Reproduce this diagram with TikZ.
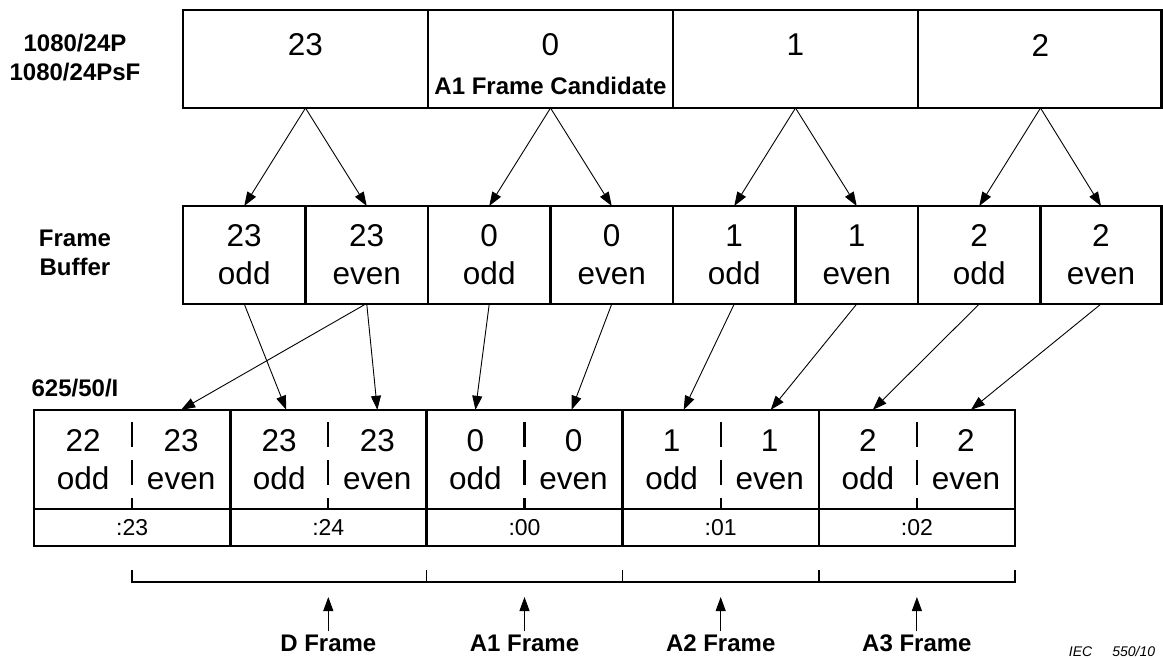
\documentclass[tikz,border=0pt]{standalone}
\usepackage{fontspec}
\setmainfont{Liberation Sans}
\usetikzlibrary{arrows.meta}
\begin{document}
\begin{tikzpicture}[x=1pt,y=-1pt,
		box/.style={draw, line width=2.6pt, inner sep=0pt, outer sep=0pt},
		num/.style={font=\fontsize{31.5}{38}\selectfont, align=center, inner sep=0pt},
		lab/.style={font=\fontsize{24}{29}\selectfont\bfseries, align=center, inner sep=3pt},
		tc/.style={box, font=\fontsize{23}{27}\selectfont, minimum width=196.2pt, minimum height=37pt},
		arr/.style={-{Triangle[length=14pt,width=10pt]}, line width=0.9pt},
		divider/.style={line width=2.2pt, dash pattern=on 25pt off 13pt, dash phase=26pt},
		brk/.style={line width=1.6pt}]
	\useasboundingbox (0,0) rectangle (1163,657);
	% 1080/24P source frames
	\node[lab] (src) at (75,57.5) {1080/24P\\1080/24PsF};
	\node[box, minimum width=245pt, minimum height=98pt] (t23) at (305.5,59) {};
	\node[box, minimum width=245pt, minimum height=98pt] (t0) at (550.5,59) {};
	\node[box, minimum width=245pt, minimum height=98pt] (t1) at (795.5,59) {};
	\node[box, minimum width=243.5pt, minimum height=98pt] (t2) at (1039.75,59) {};
	\node[num] (t23n) at (305.5,45) {23};
	\node[num] (t0n) at (550.5,45) {0};
	\node[num] (t1n) at (795.5,45) {1};
	\node[num] (t2n) at (1040.5,45) {2};
	\node[lab, inner sep=0pt] (cand) at (550.5,86) {A1 Frame Candidate};
	% frame buffer
	\node[lab] (fb) at (75,253) {Frame\\Buffer};
	\node[box, num, minimum width=122.5pt, minimum height=98pt] (b23o) at (244.25,255) {23\\odd};
	\node[box, num, minimum width=122.5pt, minimum height=98pt] (b23e) at (366.75,255) {23\\even};
	\node[box, num, minimum width=122.5pt, minimum height=98pt] (b0o) at (489.25,255) {0\\odd};
	\node[box, num, minimum width=122.5pt, minimum height=98pt] (b0e) at (611.75,255) {0\\even};
	\node[box, num, minimum width=122.5pt, minimum height=98pt] (b1o) at (734.25,255) {1\\odd};
	\node[box, num, minimum width=122.5pt, minimum height=98pt] (b1e) at (856.75,255) {1\\even};
	\node[box, num, minimum width=122.5pt, minimum height=98pt] (b2o) at (979.25,255) {2\\odd};
	\node[box, num, minimum width=121pt, minimum height=98pt] (b2e) at (1101,255) {2\\even};
	\draw[arr] (t23.south) -- (b23o.north);
	\draw[arr] (t23.south) -- (b23e.north);
	\draw[arr] (t0.south) -- (b0o.north);
	\draw[arr] (t0.south) -- (b0e.north);
	\draw[arr] (t1.south) -- (b1o.north);
	\draw[arr] (t1.south) -- (b1e.north);
	\draw[arr] ([xshift=0.75pt]t2.south) -- (b2o.north);
	\draw[arr] ([xshift=0.75pt]t2.south) -- (b2e.north);
	% 625/50/I fields
	\node[lab] (pal) at (75,388) {625/50/I};
	\node[box, minimum width=196.2pt, minimum height=99pt] (c1) at (132.1,459.5) {};
	\node[box, minimum width=196.2pt, minimum height=99pt] (c2) at (328.3,459.5) {};
	\node[box, minimum width=196.2pt, minimum height=99pt] (c3) at (524.5,459.5) {};
	\node[box, minimum width=196.2pt, minimum height=99pt] (c4) at (720.7,459.5) {};
	\node[box, minimum width=196.2pt, minimum height=99pt] (c5) at (916.9,459.5) {};
	\draw[divider] (c1.north) -- (c1.south);
	\draw[divider] (c2.north) -- (c2.south);
	\draw[divider] (c3.north) -- (c3.south);
	\draw[divider] (c4.north) -- (c4.south);
	\draw[divider] (c5.north) -- (c5.south);
	\node[num, minimum width=98pt, minimum height=99pt] (f22o) at (83.05,459.5) {22\\odd};
	\node[num, minimum width=98pt, minimum height=99pt] (f23e) at (181.15,459.5) {23\\even};
	\node[num, minimum width=98pt, minimum height=99pt] (g23o) at (279.25,459.5) {23\\odd};
	\node[num, minimum width=98pt, minimum height=99pt] (g23e) at (377.35,459.5) {23\\even};
	\node[num, minimum width=98pt, minimum height=99pt] (f0o) at (475.45,459.5) {0\\odd};
	\node[num, minimum width=98pt, minimum height=99pt] (f0e) at (573.55,459.5) {0\\even};
	\node[num, minimum width=98pt, minimum height=99pt] (f1o) at (671.65,459.5) {1\\odd};
	\node[num, minimum width=98pt, minimum height=99pt] (f1e) at (769.75,459.5) {1\\even};
	\node[num, minimum width=98pt, minimum height=99pt] (f2o) at (867.85,459.5) {2\\odd};
	\node[num, minimum width=98pt, minimum height=99pt] (f2e) at (965.95,459.5) {2\\even};
	\node[tc] (tc23) at (132.1,527.5) {:23};
	\node[tc] (tc24) at (328.3,527.5) {:24};
	\node[tc] (tc00) at (524.5,527.5) {:00};
	\node[tc] (tc01) at (720.7,527.5) {:01};
	\node[tc] (tc02) at (916.9,527.5) {:02};
	\draw[arr] (b23o.south) -- ([xshift=7pt]g23o.north);
	\draw[arr] ([xshift=-1pt]b23e.south) -- (f23e.north);
	\draw[arr] (b23e.south) -- (g23e.north);
	\draw[arr] (b0o.south) -- (f0o.north);
	\draw[arr] (b0e.south) -- ([xshift=-2pt]f0e.north);
	\draw[arr] (b1o.south) -- ([xshift=12pt]f1o.north);
	\draw[arr] (b1e.south) -- ([xshift=1pt]f1e.north);
	\draw[arr] (b2o.south) -- ([xshift=5pt]f2o.north);
	\draw[arr] (b2e.south) -- ([xshift=5pt]f2e.north);
	% frame brackets
	\coordinate (k0) at (132.1,582);
	\coordinate (k1) at (426.4,582);
	\coordinate (k2) at (622.6,582);
	\coordinate (k3) at (818.8,582);
	\coordinate (k4) at (1015,582);
	\draw[brk] ([yshift=12pt]k0) -- (k0) -- (k4) -- ([yshift=12pt]k4);
	\draw[brk] (k1) -- ([yshift=12pt]k1);
	\draw[brk] (k2) -- ([yshift=12pt]k2);
	\draw[brk] (k3) -- ([yshift=12pt]k3);
	\node[lab] (dlab) at (328.3,643) {D Frame};
	\node[lab] (a1lab) at (524.5,643) {A1 Frame};
	\node[lab] (a2lab) at (720.7,643) {A2 Frame};
	\node[lab] (a3lab) at (916.9,643) {A3 Frame};
	\coordinate (dtip) at (328.3,597);
	\coordinate (a1tip) at (524.5,597);
	\coordinate (a2tip) at (720.7,597);
	\coordinate (a3tip) at (916.9,597);
	\draw[arr] (dlab.north) -- (dtip);
	\draw[arr] (a1lab.north) -- (a1tip);
	\draw[arr] (a2lab.north) -- (a2tip);
	\draw[arr] (a3lab.north) -- (a3tip);
	\node[font=\fontsize{14}{16}\selectfont\itshape] (iec) at (1112,651) {IEC\hspace{20pt}550/10};
\end{tikzpicture}
\end{document}
